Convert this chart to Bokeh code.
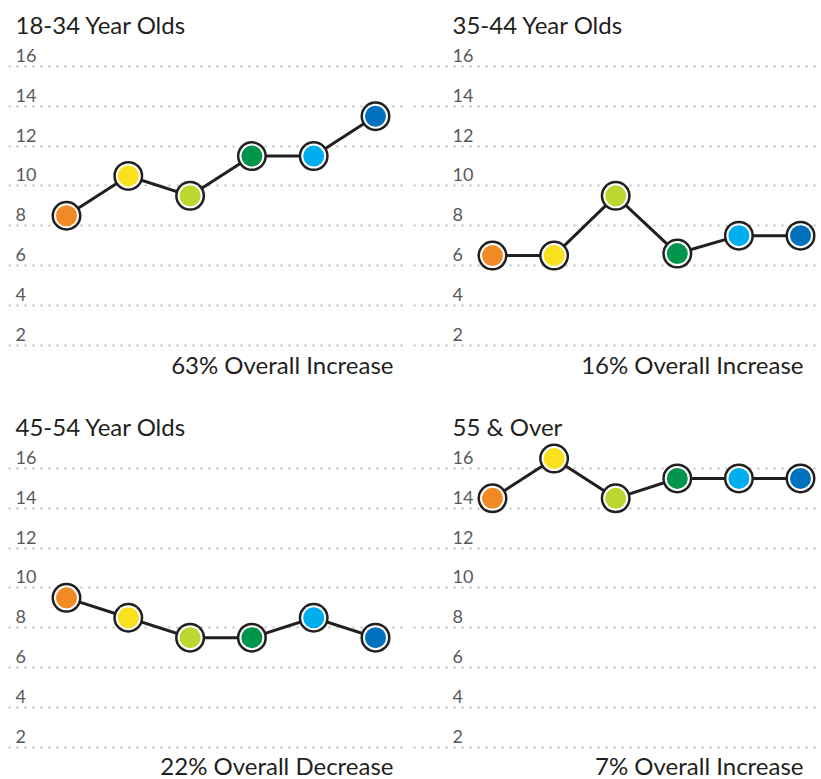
from bokeh.plotting import figure
from bokeh.layouts import column, row
from bokeh.models import Range1d, FixedTicker, Label, ColumnDataSource
from bokeh.embed import file_html
from bokeh.resources import INLINE

# ---- data ----
periods = [1, 2, 3, 4, 5, 6]
point_colors = ["#F08A24", "#F9E11E", "#BED630", "#00954A", "#00AEEF", "#0071BC"]
y_ticks = [2, 4, 6, 8, 10, 12, 14, 16]
y_tick_labels = ["2", "4", "6", "8", "10", "12", "14", "16"]

titles = ["18-34 Year Olds", "35-44 Year Olds", "45-54 Year Olds", "55 & Over"]
values_18_34 = [8.5, 10.5, 9.5, 11.5, 11.5, 13.5]
values_35_44 = [6.5, 6.5, 9.5, 6.6, 7.5, 7.5]
values_45_54 = [9.5, 8.5, 7.5, 7.5, 8.5, 7.5]
values_55_over = [14.5, 16.5, 14.5, 15.5, 15.5, 15.5]
summaries = ["63% Overall Increase", "16% Overall Increase",
             "22% Overall Decrease", "7% Overall Increase"]

FONT = "Lato"
DARK = "#231F20"
GREY = "#58595B"


def panel(title, values, summary, width, height, xr, yr, b_left, b_right,
          tick_x, title_x, title_y, sum_right, sum_y):
    p = figure(width=width, height=height, x_range=Range1d(*xr), y_range=Range1d(*yr),
               output_backend="svg", toolbar_location=None,
               min_border_left=b_left, min_border_right=b_right,
               min_border_top=0, min_border_bottom=0, outline_line_color=None)
    p.xaxis.visible = False
    p.yaxis.visible = False
    p.xgrid.visible = False
    p.ygrid.ticker = FixedTicker(ticks=y_ticks)
    p.ygrid.grid_line_color = "#BCBEC0"
    p.ygrid.grid_line_width = 2
    p.ygrid.grid_line_dash = "2 6"

    for t, lab in zip(y_ticks, y_tick_labels):
        p.add_layout(Label(x=tick_x, x_units="screen", y=t, y_units="data",
                           y_offset=11, text=lab, text_font=FONT,
                           text_font_size="18px", text_color=GREY,
                           text_baseline="middle", text_align="left"))

    p.add_layout(Label(x=title_x, x_units="screen", y=title_y, y_units="screen",
                       text=title, text_font=FONT, text_font_size="24px",
                       text_color=DARK, text_baseline="middle"))
    p.add_layout(Label(x=sum_right, x_units="screen", y=sum_y, y_units="screen",
                       text=summary, text_font=FONT, text_font_size="24px",
                       text_color=DARK, text_baseline="middle", text_align="right"))

    src = ColumnDataSource(dict(x=periods, y=values, c=point_colors))
    p.line("x", "y", source=src, line_color=DARK, line_width=3)
    p.scatter("x", "y", source=src, size=30, fill_color=DARK, line_color=None)
    p.scatter("x", "y", source=src, size=25, fill_color="white", line_color=None)
    p.scatter("x", "y", source=src, size=21, fill_color="c", line_color=None)
    return p


PX = 19.9  # pixels per y unit
top_h = 405
top_y = (16 + 66 / PX - top_h / PX, 16 + 66 / PX)
bot_h = 374
bot_y = (16 + 63 / PX - bot_h / PX, 16 + 63 / PX)

left_x = (1 - 58 / 61.8, 1 - 58 / 61.8 + 400 / 61.8)
right_x = (1 - 79 / 61.6, 1 - 79 / 61.6 + 408 / 61.6)

p1 = panel(titles[0], values_18_34, summaries[0], 410, top_h, left_x, top_y, 8, 2,
           7, 7, top_h - 24, 385, 41)
p2 = panel(titles[1], values_35_44, summaries[1], 411, top_h, right_x, top_y, 3, 0,
           39, 39, top_h - 24, 390, 41)
p3 = panel(titles[2], values_45_54, summaries[2], 410, bot_h, left_x, bot_y, 8, 2,
           7, 7, bot_h - 21, 385, 14)
p4 = panel(titles[3], values_55_over, summaries[3], 411, bot_h, right_x, bot_y, 3, 0,
           39, 39, bot_h - 21, 390, 14)

layout = column(row(p1, p2), row(p3, p4))
open("out.html", "w").write(file_html(layout, INLINE))
